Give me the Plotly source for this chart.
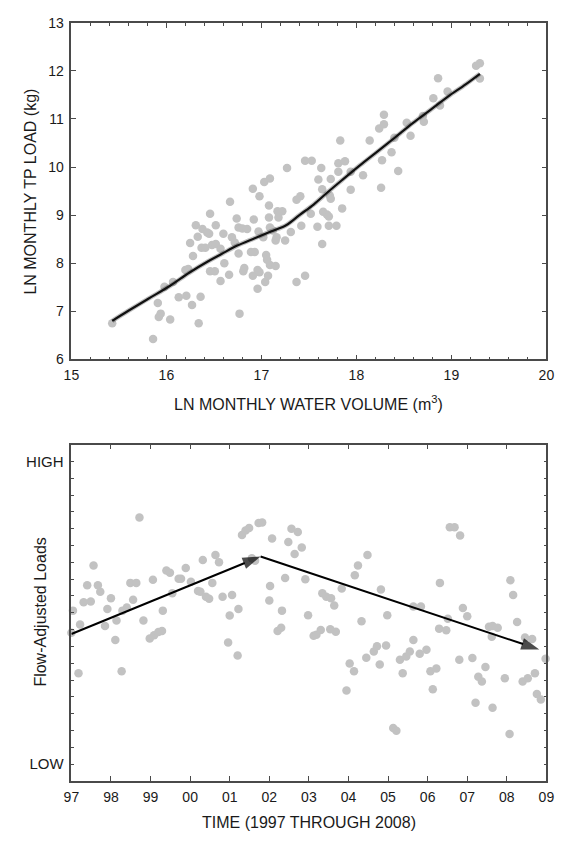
import plotly.graph_objects as go

# ---------------- Top panel data ----------------
water_volume = [15.43, 15.86, 15.91, 15.92, 15.94, 16.04, 15.98, 16.07, 16.13, 16.21, 16.20, 16.23, 16.27,
                16.25, 16.28, 16.31, 16.33, 16.36, 16.34, 16.37, 16.41, 16.38, 16.43, 16.45, 16.46, 16.46,
                16.51, 16.48, 16.52, 16.52, 16.57, 16.57, 16.60, 16.61, 16.67, 16.66, 16.69, 16.74, 16.76,
                16.80, 16.76, 16.77, 16.81, 16.82, 16.85, 16.89, 16.93, 16.92, 16.91, 16.91, 16.96, 16.97,
                16.96, 16.98, 16.98, 17.02, 17.04, 17.05, 17.06, 17.09, 17.07, 17.08, 17.08, 17.09, 17.12,
                17.15, 17.16, 17.15, 17.17, 17.22, 17.18, 17.25, 17.31, 17.37, 17.37, 17.41, 17.42, 17.46,
                17.52, 17.59, 17.64, 17.64, 17.65, 17.69, 17.71, 17.71, 17.72, 17.73, 17.79, 17.85, 17.94,
                18.26, 16.72,
                17.03, 17.09, 17.27, 17.46, 17.53, 17.63, 17.60, 17.73, 17.81, 17.81, 17.83, 17.88, 17.94,
                18.07, 18.14, 18.24, 18.29, 18.29, 18.27, 18.37, 18.40, 18.44, 18.53, 18.57, 18.70, 18.71,
                18.81, 18.86, 18.88, 18.96, 19.26, 19.30, 19.30]
tp_load = [6.75, 6.42, 7.17, 6.88, 6.95, 6.83, 7.51, 7.61, 7.29, 7.32, 7.86, 7.88, 7.13,
           8.42, 8.15, 8.79, 8.55, 7.30, 6.75, 8.32, 8.32, 8.71, 8.64, 8.61, 9.03, 7.83,
           7.83, 8.38, 8.40, 8.79, 8.30, 7.63, 8.61, 8.00, 9.28, 7.76, 8.54, 8.93, 8.74,
           8.72, 8.20, 6.95, 7.83, 7.90, 8.71, 8.23, 8.23, 8.91, 7.74, 9.55, 7.47, 8.66,
           7.86, 7.81, 9.39, 8.54, 7.61, 8.17, 8.07, 7.96, 7.74, 9.20, 8.95, 8.74, 8.68,
           7.94, 8.54, 8.47, 9.08, 9.08, 8.95, 8.47, 8.65, 7.61, 9.32, 9.39, 8.78, 7.74,
           9.03, 8.76, 9.54, 8.40, 9.07, 9.01, 8.97, 8.78, 9.41, 9.34, 8.78, 9.14, 9.53,
           9.57, 8.43,
           9.69, 9.76, 9.98, 10.13, 10.13, 9.98, 9.74, 9.75, 9.90, 10.08, 10.55, 10.12, 9.90,
           9.83, 10.55, 10.80, 11.09, 10.89, 10.14, 10.31, 10.61, 9.92, 10.92, 10.65, 11.06, 10.94,
           11.43, 11.85, 11.28, 11.57, 12.11, 12.16, 11.84]

loess_x = [15.43, 15.60, 15.81, 16.04, 16.24, 16.44, 16.58, 16.74, 16.93, 17.10, 17.26, 17.40,
           17.55, 17.70, 17.85, 18.04, 18.22, 18.41, 18.59, 18.78, 18.96, 19.15, 19.30]
loess_y = [6.80, 7.01, 7.26, 7.53, 7.80, 8.04, 8.19, 8.36, 8.52, 8.66, 8.79, 9.00,
           9.22, 9.48, 9.73, 10.04, 10.32, 10.62, 10.91, 11.19, 11.46, 11.72, 11.94]

volume_ticks = [15, 16, 17, 18, 19, 20]
load_ticks = [6, 7, 8, 9, 10, 11, 12, 13]

# ---------------- Bottom panel data ----------------
time_year = [1998.72, 2001.31, 2001.40, 2001.49, 2001.73, 2001.82, 2002.07, 2002.56, 2002.72, 2002.48,
             2002.64, 2002.82, 2001.56, 2001.64, 2000.64, 2000.73, 2000.32, 1999.89, 1999.40, 1999.49,
             1999.71, 1999.77, 2000.02, 1999.55, 2000.20, 2000.26, 2000.56, 2000.40, 2000.48, 2000.82,
             2001.06, 2001.22, 2001.00, 1999.06, 1999.31, 1998.49, 1998.64, 1998.56, 1998.82, 1998.29,
             1998.40, 1998.00, 1997.91, 1998.14, 1997.56, 1997.40, 1997.67, 1997.73, 1997.31, 1997.49,
             1997.04, 1997.22, 2002.00, 2002.02, 2002.32, 2002.40, 2002.91, 2002.98, 2003.34, 2003.44,
             2003.56, 2003.64, 2003.83, 2004.16, 2004.24, 2004.48, 2004.33, 2004.82, 2004.98, 2005.64,
             2005.83, 2006.31, 2006.51, 2006.56, 2006.68, 2006.82, 2006.89, 2007.00, 2008.09, 2008.16,
             2008.26,
             1997.00, 1997.18, 1997.85, 1998.11, 1998.27, 1998.98, 1999.09, 1999.20, 1999.29, 2000.96,
             2001.20, 2002.21, 2002.30, 2003.12, 2003.19, 2003.30, 2003.54, 2003.68, 2003.95, 2004.03,
             2004.14, 2004.45, 2004.64, 2004.72, 2004.79, 2004.95, 2005.13, 2005.21, 2005.30, 2005.37,
             2005.46, 2005.55, 2005.64, 2005.80, 2005.97, 2006.07, 2006.22, 2006.13, 2006.29, 2006.47,
             2006.80, 2007.13, 2007.21, 2007.28, 2007.37, 2007.46, 2007.55, 2007.64, 2007.77, 2007.62,
             2007.64, 2007.95, 2008.07, 2008.40, 2008.53, 2008.46, 2008.64, 2008.71, 2008.76, 2008.86,
             2008.98]
flow_adjusted = [15.67, 14.62, 14.89, 15.04, 15.34, 15.37, 14.42, 15.00, 14.81, 14.21,
                 13.49, 13.88, 13.24, 13.10, 13.43, 13.00, 13.14, 12.67, 12.52, 12.38,
                 12.03, 12.03, 11.84, 11.16, 11.29, 11.25, 11.78, 10.96, 10.83, 10.96,
                 11.06, 10.22, 9.84, 11.97, 10.13, 11.78, 11.78, 10.77, 9.55, 10.13,
                 10.32, 10.86, 10.22, 9.55, 12.81, 11.64, 11.64, 11.25, 10.63, 10.67,
                 10.13, 9.31, 10.73, 11.59, 10.13, 12.07, 11.99, 9.85, 11.16, 10.96,
                 10.86, 10.44, 11.45, 12.23, 12.81, 13.43, 9.50, 11.39, 9.85, 10.38,
                 10.38, 11.78, 9.64, 15.08, 15.08, 14.60, 10.28, 9.80, 11.94, 11.06,
                 9.46,
                 8.82, 6.40, 9.21, 8.38, 6.53, 8.47, 8.67, 8.86, 8.92, 8.24,
                 7.46, 8.92, 9.11, 8.63, 8.69, 8.98, 9.02, 8.88, 5.38, 6.98,
                 6.53, 7.33, 7.70, 8.01, 6.92, 8.05, 3.15, 2.99, 7.21, 6.40,
                 7.41, 7.70, 8.38, 7.56, 7.80, 6.53, 6.69, 5.46, 9.06, 8.96,
                 7.21, 7.31, 4.65, 6.20, 5.91, 6.78, 9.17, 9.21, 9.11, 8.57,
                 4.36, 6.11, 2.80, 5.91, 6.11, 8.53, 8.44, 6.40, 5.17, 4.84,
                 7.27]

# Trend arrows (start -> end)
trend_start_year = [1997.00, 2001.78]
trend_start_level = [8.74, 13.35]
trend_end_year = [2001.78, 2008.82]
trend_end_level = [13.35, 7.82]

year_ticks = list(range(1997, 2010))
year_labels = ["97", "98", "99", "00", "01", "02", "03", "04", "05", "06", "07", "08", "09"]
level_ticks = [1, 19]
level_labels = ["LOW", "HIGH"]
level_major_ticks = [5, 10, 15]

# ---------------- Figure ----------------
WIN_W, WIN_H = 568, 841
PAD = 8                       # default page margin before the figure
W, H = WIN_W - PAD, WIN_H - PAD


def fx(px):                   # window x pixel -> paper fraction
    return (px - PAD) / W


def fy(py):                   # window y pixel -> paper fraction
    return 1 - (py - PAD) / H


FONT = "Liberation Sans, Arial, sans-serif"
TXT = "#1a1a1a"
AX = "#4a4a4a"
DOT = "#c2c2c2"

x_dom = [fx(65), fx(554)]
top_dom = [fy(358), fy(15)]
bot_dom = [fy(788), fy(445)]

fig = go.Figure()
fig.add_trace(go.Scatter(x=water_volume, y=tp_load, mode="markers",
                         marker=dict(size=8.5, color=DOT), xaxis="x", yaxis="y",
                         hoverinfo="skip"))
fig.add_trace(go.Scatter(x=loess_x, y=loess_y, mode="lines",
                         line=dict(color="rgba(0,0,0,0.25)", width=4.5, shape="spline"),
                         xaxis="x", yaxis="y", hoverinfo="skip"))
fig.add_trace(go.Scatter(x=loess_x, y=loess_y, mode="lines",
                         line=dict(color="#111111", width=2.2, shape="spline"),
                         xaxis="x", yaxis="y", hoverinfo="skip"))
fig.add_trace(go.Scatter(x=time_year, y=flow_adjusted, mode="markers",
                         marker=dict(size=8.5, color=DOT), xaxis="x2", yaxis="y2",
                         cliponaxis=False, hoverinfo="skip"))
for sx, sy, ex, ey in zip(trend_start_year, trend_start_level, trend_end_year, trend_end_level):
    fig.add_trace(go.Scatter(x=[sx, ex], y=[sy, ey], mode="lines+markers",
                             line=dict(color="#000000", width=2),
                             marker=dict(symbol="arrow", angleref="previous", size=[0, 19],
                                         color="#000000", line=dict(width=0)),
                             xaxis="x2", yaxis="y2", cliponaxis=False, hoverinfo="skip"))

axis_common = dict(showline=True, linecolor=AX, linewidth=1.5, mirror="ticks",
                   ticks="inside", tickcolor=AX, tickwidth=1.2, ticklen=5,
                   showgrid=False, zeroline=False, ticklabeloverflow="allow")

fig.update_layout(
    width=W, height=H, margin=dict(l=0, r=0, t=0, b=0),
    paper_bgcolor="white", plot_bgcolor="white", showlegend=False,
    xaxis=dict(domain=x_dom, anchor="y", range=[15, 20], tickmode="array",
               tickvals=volume_ticks, ticklabelstandoff=2,
               tickfont=dict(family=FONT, size=14, color=TXT),
               minor=dict(dtick=0.2, tick0=15, ticks="inside", ticklen=3,
                          tickcolor=AX, tickwidth=1), **axis_common),
    yaxis=dict(domain=top_dom, anchor="x", range=[6, 13], tickmode="array",
               tickvals=load_ticks, ticklabelstandoff=3,
               tickfont=dict(family=FONT, size=14, color=TXT), **axis_common),
    xaxis2=dict(domain=x_dom, anchor="y2", range=[1997, 2009], tickmode="array",
                tickvals=year_ticks, ticktext=year_labels, ticklabelstandoff=2,
                tickfont=dict(family=FONT, size=14, color=TXT), **axis_common),
    yaxis2=dict(domain=bot_dom, anchor="x2", range=[0, 20], tickmode="array",
                tickvals=level_ticks, ticktext=level_labels, ticklabelstandoff=3,
                tickfont=dict(family=FONT, size=15, color=TXT),
                minor=dict(dtick=1, tick0=0, ticks="inside", ticklen=3,
                           tickcolor=AX, tickwidth=1),
                **{**axis_common, "ticklen": 3}),
    yaxis3=dict(overlaying="y2", anchor="x2", range=[0, 20], tickmode="array",
                tickvals=level_major_ticks, showticklabels=False, showline=False,
                ticks="inside", ticklen=5, tickcolor=AX, tickwidth=1.2,
                mirror="ticks", showgrid=False, zeroline=False),
)

annotations = [
    dict(text="LN MONTHLY WATER VOLUME (m<sup>3</sup>)", x=(x_dom[0] + x_dom[1]) / 2, y=fy(403),
         xref="paper", yref="paper", xanchor="center", yanchor="middle", showarrow=False,
         font=dict(family=FONT, size=16, color=TXT)),
    dict(text="LN MONTHLY TP LOAD (kg)", x=fx(23.5), y=fy(187), textangle=-90,
         xref="paper", yref="paper", xanchor="center", yanchor="middle", showarrow=False,
         font=dict(family=FONT, size=16, color=TXT)),
    dict(text="TIME (1997 THROUGH 2008)", x=(x_dom[0] + x_dom[1]) / 2, y=fy(830),
         xref="paper", yref="paper", xanchor="center", yanchor="middle", showarrow=False,
         font=dict(family=FONT, size=16, color=TXT)),
    dict(text="Flow-Adjusted Loads", x=fx(33), y=fy(616), textangle=-90,
         xref="paper", yref="paper", xanchor="center", yanchor="middle", showarrow=False,
         font=dict(family=FONT, size=16, color=TXT)),
]
fig.update_layout(annotations=annotations)

fig.write_html("out.html")
